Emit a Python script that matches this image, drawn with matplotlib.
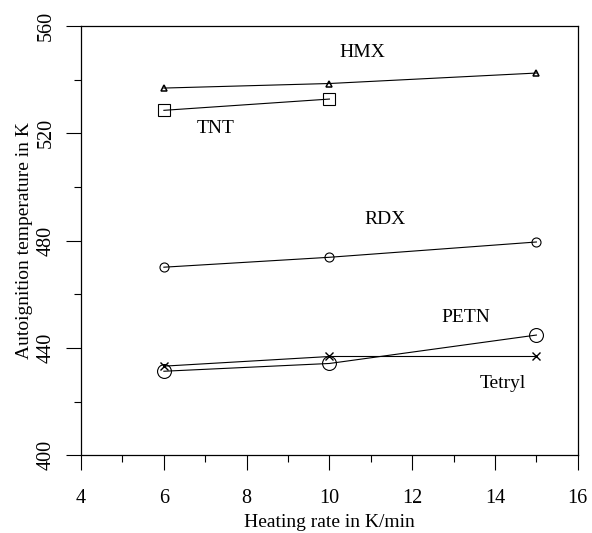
import matplotlib
matplotlib.use("Agg")
import matplotlib.pyplot as plt
from matplotlib.ticker import MultipleLocator

plt.rcParams['font.family'] = ['Liberation Serif', 'DejaVu Serif']

# heating rates (K/min) and autoignition temperatures (K)
rate = [6, 10, 15]
hmx = [536.9, 538.6, 542.5]
tnt_rate = [6, 10]
tnt = [528.6, 532.8]
rdx = [470.1, 473.8, 479.5]
petn = [431.3, 434.2, 444.8]
tetryl = [433.2, 436.8, 436.8]

labels = ['HMX', 'TNT', 'RDX', 'PETN', 'Tetryl']
label_x = [10.8, 7.25, 11.35, 13.3, 14.2]
label_y = [550.0, 522.0, 487.8, 451.5, 426.9]

fig = plt.figure(figsize=(5.92, 5.33), dpi=100)
ax = fig.add_axes([0.137, 0.146, 0.839, 0.805])

line_kw = dict(color='black', linewidth=0.8, markerfacecolor='none', markeredgecolor='black')
ax.plot(rate, hmx, marker='^', markersize=5, markeredgewidth=1.1, **line_kw)
ax.plot(tnt_rate, tnt, marker='s', markersize=8.5, markeredgewidth=0.8, **line_kw)
ax.plot(rate, rdx, marker='o', markersize=6.5, markeredgewidth=0.8, **line_kw)
ax.plot(rate, petn, marker='o', markersize=10, markeredgewidth=0.8, **line_kw)
ax.plot(rate, tetryl, marker='x', markersize=6, markeredgewidth=1.0, **line_kw)

for name, lx, ly in zip(labels, label_x, label_y):
    ax.text(lx, ly, name, fontsize=14, ha='center', va='center')

ax.set_xlim(4, 16)
ax.set_ylim(400, 560)
ax.xaxis.set_major_locator(MultipleLocator(2))
ax.xaxis.set_minor_locator(MultipleLocator(1))
ax.yaxis.set_major_locator(MultipleLocator(40))
ax.yaxis.set_minor_locator(MultipleLocator(20))
ax.tick_params(which='major', direction='out', length=11, width=0.8, labelsize=14.5, pad=13)
ax.tick_params(which='minor', direction='out', length=5, width=0.8)
ax.tick_params(axis='y', which='major', pad=7)
for lab in ax.get_yticklabels():
    lab.set_rotation(90)
    lab.set_va('center')
for sp in ax.spines.values():
    sp.set_linewidth(0.9)

ax.set_xlabel('Heating rate in K/min', fontsize=14, labelpad=5)
ax.set_ylabel('Autoignition temperature in K', fontsize=14, labelpad=3)

fig.savefig('out.png', dpi=100)
